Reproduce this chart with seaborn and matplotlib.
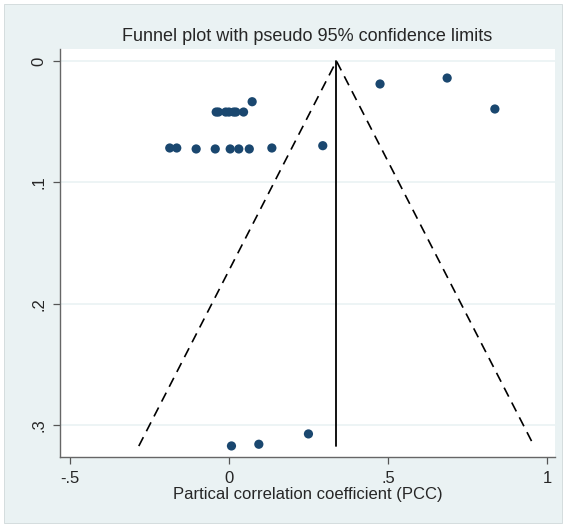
import matplotlib
matplotlib.use("Agg")
import matplotlib.pyplot as plt
import seaborn as sns
import pandas as pd
from matplotlib.patches import Rectangle

# Data
pcc = [0.475, 0.686, 0.836,
       -0.040, -0.033, -0.010, 0.000, 0.015, 0.022, 0.046, 0.073,
       -0.186, -0.164, -0.103, -0.043, 0.004, 0.031, 0.064, 0.135, 0.295,
       0.008, 0.094, 0.250]
se = [0.0189, 0.0140, 0.0395,
      0.042, 0.042, 0.042, 0.042, 0.042, 0.042, 0.042, 0.0335,
      0.0716, 0.0716, 0.0724, 0.0724, 0.0724, 0.0724, 0.0724, 0.0716, 0.0697,
      0.3169, 0.3155, 0.307]
theta = 0.338        # pooled estimate
se_max = 0.317
z = 1.96
xticks = [-0.5, 0, 0.5, 1]
xticklabels = ["-.5", "0", ".5", "1"]
yticks = [0, 0.1, 0.2, 0.3]
yticklabels = ["0", ".1", ".2", ".3"]
title = "Funnel plot with pseudo 95% confidence limits"
xlabel = "Partical correlation coefficient (PCC)"

df = pd.DataFrame({"pcc": pcc, "se": se})
funnel = pd.DataFrame({
    "x": [theta - z * se_max, theta, theta + z * se_max],
    "y": [se_max, 0, se_max],
})

sns.set_style("white")
plt.rcParams['font.family'] = ['Liberation Sans Narrow', 'Liberation Sans', 'DejaVu Sans']

bg = "#eaf2f3"
fig = plt.figure(figsize=(5.66, 5.27), dpi=100, facecolor="white")
fig.patches.append(Rectangle((4/566, 4/527), 1 - 8/566, 1 - 8/527,
                             transform=fig.transFigure, facecolor=bg,
                             edgecolor="#d0d8da", lw=0.6, zorder=-10))
ax = fig.add_axes([60/566, 1 - 457/527, (555 - 60)/566, (457 - 49)/527])
ax.set_facecolor("white")

for t in yticks:
    ax.axhline(t, color=bg, lw=1.2, zorder=0)

ax.plot(funnel["x"], funnel["y"], color="black", lw=1.2, ls=(0, (6, 4)), zorder=2)
ax.plot([theta, theta], [0, se_max], color="black", lw=1.3, zorder=2)

sns.scatterplot(data=df, x="pcc", y="se", ax=ax, color="#1a476f", s=44,
                edgecolor="none", zorder=3, legend=False)

ax.set_xlim(-0.531, 1.025)
ax.set_ylim(0.326, -0.0099)
ax.set_xticks(xticks)
ax.set_xticklabels(xticklabels)
ax.set_yticks(yticks)
ax.set_yticklabels(yticklabels, rotation=90, va="center")
ax.tick_params(axis="both", direction="out", length=5, width=0.9, color="#555555",
               labelsize=12, pad=5, left=True, bottom=True)
for s in ["top", "right"]:
    ax.spines[s].set_visible(False)
for s in ["left", "bottom"]:
    ax.spines[s].set_color("#666666")
    ax.spines[s].set_linewidth(1.0)

ax.set_xlabel(xlabel, fontsize=12, labelpad=1)
ax.set_ylabel("")
ax.set_title(title, fontsize=13, pad=6)

fig.savefig("out.png", dpi=100, facecolor=fig.get_facecolor())
